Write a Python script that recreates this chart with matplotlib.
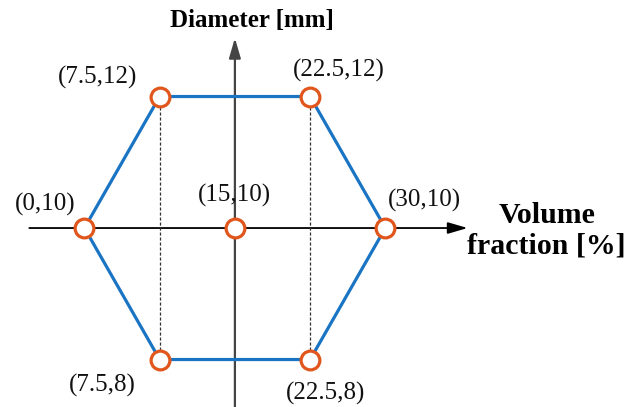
import matplotlib
matplotlib.use("Agg")
import matplotlib.pyplot as plt

# Data
vol_fraction = [0, 7.5, 22.5, 30, 22.5, 7.5]
diameter = [10, 12, 12, 10, 8, 8]
center_x = [15]
center_y = [10]
labels = ["(0,10)", "(7.5,12)", "(22.5,12)", "(30,10)", "(22.5,8)", "(7.5,8)"]
center_label = ["(15,10)"]
x_axis_label = ["Volume", "fraction [%]"]
y_axis_label = "Diameter [mm]"

plt.rcParams['font.family'] = ['Liberation Serif', 'DejaVu Serif']

W, H = 635, 407
fig = plt.figure(figsize=(W / 100, H / 100), dpi=100)
ax = fig.add_axes([0, 0, 1, 1])
ax.set_xlim(-8.42, 54.89)
ax.set_ylim(7.278, 13.468)
ax.axis('off')

blue = '#1a74c4'
orange = '#e0561c'

# axes arrows
ax.annotate('', xy=(38.2, 10), xytext=(-5.5, 10),
            arrowprops=dict(arrowstyle='-|>,head_length=1.2,head_width=0.35', color='black', lw=1.3,
                            shrinkA=0, shrinkB=0), zorder=1)
ax.annotate('', xy=(15, 12.89), xytext=(15, 7.2),
            arrowprops=dict(arrowstyle='-|>,head_length=1.2,head_width=0.35', color='#444444', lw=1.6,
                            shrinkA=0, shrinkB=0), zorder=1)

# dashed verticals
for xv, yt, yb in [(vol_fraction[1], diameter[1], diameter[5]), (vol_fraction[2], diameter[2], diameter[4])]:
    ax.plot([xv, xv], [yt, yb], ls=(0, (2.5, 1.5)), color='#333333', lw=0.9, zorder=2)

# hexagon
ax.plot(vol_fraction + [vol_fraction[0]], diameter + [diameter[0]], color=blue, lw=2.3, zorder=3)
ax.plot(vol_fraction, diameter, ls='none', marker='o', ms=13.5, mfc='white', mec=orange, mew=2.3, zorder=4)
ax.plot(center_x, center_y, ls='none', marker='o', ms=13.5, mfc='white', mec=orange, mew=2.3, zorder=4)

offsets = [(-39, 24), (-62, 19), (29, 26), (39, 28), (15, -34), (-57, -26)]
for x, y, lab, off in zip(vol_fraction, diameter, labels, offsets):
    ax.annotate(lab, (x, y), xytext=off, textcoords='offset pixels',
                ha='center', va='center', fontsize=18, color='#111111')
ax.annotate(center_label[0], (center_x[0], center_y[0]), xytext=(0, 33), textcoords='offset pixels',
            ha='center', va='center', fontsize=18, color='#111111')

fig.text(251.5 / W, 1 - 20 / H, y_axis_label, ha='center', va='center',
         fontsize=18, fontweight='bold')
fig.text(547 / W, 1 - 216 / H, x_axis_label[0], ha='center', va='center',
         fontsize=21.5, fontweight='bold')
fig.text(546.5 / W, 1 - 246 / H, x_axis_label[1], ha='center', va='center',
         fontsize=21.5, fontweight='bold')

fig.savefig('out.png', dpi=100)
